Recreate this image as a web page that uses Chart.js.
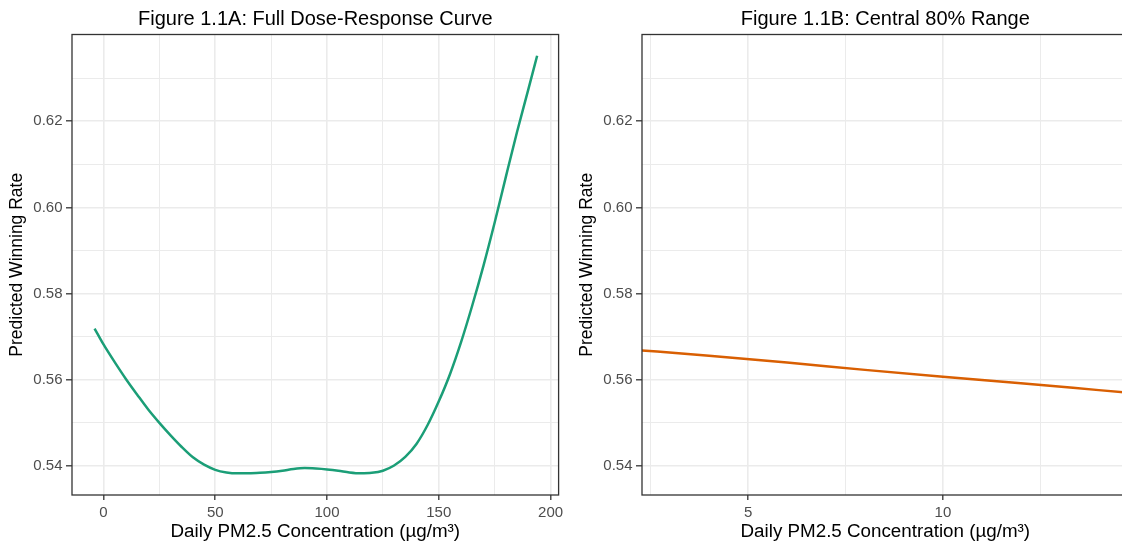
<!DOCTYPE html>
<html>
<head>
<meta charset="utf-8">
<script src="https://cdn.jsdelivr.net/npm/chart.js@4.4.1/dist/chart.umd.min.js"></script>
<style>
  html, body { margin: 0; padding: 0; background: #ffffff; overflow: hidden; width: 1122px; height: 545px; }
  #wrapA { position: absolute; left: 0; top: 0; width: 570px; height: 545px; }
  #wrapB { position: absolute; left: 570px; top: 0; width: 570px; height: 545px; }
</style>
</head>
<body>
<div id="wrapA"><canvas id="chartA" width="570" height="545"></canvas></div>
<div id="wrapB"><canvas id="chartB" width="570" height="545"></canvas></div>
<script>
// ---- Data ----
const titleA = 'Figure 1.1A: Full Dose-Response Curve';
const titleB = 'Figure 1.1B: Central 80% Range';
const xLabel = 'Daily PM2.5 Concentration (\u00b5g/m\u00b3)';
const yLabel = 'Predicted Winning Rate';

// Panel A: full dose-response curve
const pm25A = [-4, 0, 5, 10, 15, 20, 25, 30, 35, 40, 45, 50, 55, 60, 65, 70, 75, 80, 85, 90, 95,
               100, 105, 110, 115, 120, 125, 130, 135, 140, 145, 150, 155, 160, 165, 170, 175, 180, 185, 190, 194];
const rateA = [0.5719, 0.5682, 0.5641, 0.5602, 0.5566, 0.5531, 0.5500, 0.5471, 0.5444, 0.5420, 0.5403,
               0.5391, 0.5385, 0.5383, 0.5383, 0.5384, 0.5386, 0.5389, 0.5393, 0.5395, 0.5394,
               0.5392, 0.5389, 0.5385, 0.5383, 0.5384, 0.5389, 0.5401, 0.5421, 0.5451, 0.5495,
               0.5550, 0.5613, 0.5688, 0.5773, 0.5865, 0.5965, 0.6071, 0.6175, 0.6273, 0.6352];

// Panel B: central 80% range (zoomed view)
const pm25B = [2, 4, 6, 8, 10, 12, 14, 15];
const rateB = [0.5670, 0.5656, 0.5640, 0.5623, 0.5607, 0.5592, 0.5576, 0.5568];

// Axis ticks
const xTicksA = [0, 50, 100, 150, 200];
const xMinorA = [25, 75, 125, 175];
const xTicksB = [5, 10];
const xMinorB = [2.5, 7.5, 12.5];
const yTicks = [0.54, 0.56, 0.58, 0.60, 0.62];
const yMinor = [0.55, 0.57, 0.59, 0.61, 0.63];

// Axis limits
const xLimA = [-14.1, 203.6];
const xLimB = [2.279, 14.764];
const yLim = [0.53326, 0.64014];

// ---- Styling ----
const FONT = '"Liberation Sans", Arial, Helvetica, sans-serif';
const GRID = '#EBEBEB';
const DARK = '#333333';
const TICKTXT = '#4D4D4D';

function tickSetter(major, minor) {
  return function (scale) {
    const arr = major.map(v => ({ value: v, isMinor: false }))
      .concat(minor.map(v => ({ value: v, isMinor: true })));
    arr.sort((a, b) => a.value - b.value);
    scale.ticks = arr;
  };
}

const panelBorder = {
  id: 'panelBorder',
  afterDatasetsDraw(chart) {
    const a = chart.chartArea;
    const ctx = chart.ctx;
    ctx.save();
    ctx.strokeStyle = DARK;
    ctx.lineWidth = 1.3;
    ctx.strokeRect(a.left, a.top, a.right - a.left, a.bottom - a.top);
    ctx.restore();
  }
};

function gridOpts(tickLen) {
  return {
    color: c => GRID,
    lineWidth: c => (c.tick && c.tick.isMinor) ? 1 : 1.6,
    tickLength: tickLen,
    tickColor: c => (c.tick && c.tick.isMinor) ? 'rgba(0,0,0,0)' : DARK,
    tickWidth: 1.3,
    drawOnChartArea: true
  };
}

function makeChart(id, title, xs, ys, color, xLim, xMajor, xMinor) {
  const pts = xs.map((x, i) => ({ x: x, y: ys[i] }));
  return new Chart(document.getElementById(id), {
    type: 'line',
    data: {
      datasets: [{
        data: pts,
        borderColor: color,
        borderWidth: 2.5,
        pointRadius: 0,
        fill: false,
        cubicInterpolationMode: 'monotone',
        clip: 0
      }]
    },
    plugins: [panelBorder],
    options: {
      responsive: false,
      animation: false,
      devicePixelRatio: 1,
      layout: { padding: { left: 0, right: 11.4, top: 0, bottom: 0 } },
      plugins: {
        legend: { display: false },
        tooltip: { enabled: false },
        title: {
          display: true,
          text: title,
          fullSize: false,
          color: '#000000',
          font: { family: FONT, size: 20, weight: 'normal' },
          padding: { top: 7, bottom: 3.5 }
        }
      },
      scales: {
        x: {
          type: 'linear',
          min: xLim[0],
          max: xLim[1],
          afterBuildTicks: tickSetter(xMajor, xMinor),
          afterFit: s => { s.height = 50; },
          border: { display: false },
          grid: gridOpts(5),
          ticks: {
            autoSkip: false,
            maxRotation: 0,
            color: TICKTXT,
            padding: 4,
            font: { family: FONT, size: 15 },
            callback: (v, i, t) => (t[i] && t[i].isMinor) ? '' : String(v)
          },
          title: {
            display: true,
            text: xLabel,
            color: '#000000',
            font: { family: FONT, size: 18.8 },
            padding: { top: 0, bottom: 1.5 }
          }
        },
        y: {
          type: 'linear',
          min: yLim[0],
          max: yLim[1],
          afterBuildTicks: tickSetter(yTicks, yMinor),
          afterFit: s => { s.width = 72; },
          border: { display: false },
          grid: gridOpts(6),
          ticks: {
            autoSkip: false,
            color: TICKTXT,
            padding: 3.5,
            font: { family: FONT, size: 15 },
            callback: (v, i, t) => (t[i] && t[i].isMinor) ? '' : Number(v).toFixed(2)
          },
          title: {
            display: true,
            text: yLabel,
            color: '#000000',
            font: { family: FONT, size: 17.5 },
            padding: { top: 7, bottom: 0 }
          }
        }
      }
    }
  });
}

makeChart('chartA', titleA, pm25A, rateA, '#1B9E77', xLimA, xTicksA, xMinorA);
makeChart('chartB', titleB, pm25B, rateB, '#D95F02', xLimB, xTicksB, xMinorB);
</script>
</body>
</html>
